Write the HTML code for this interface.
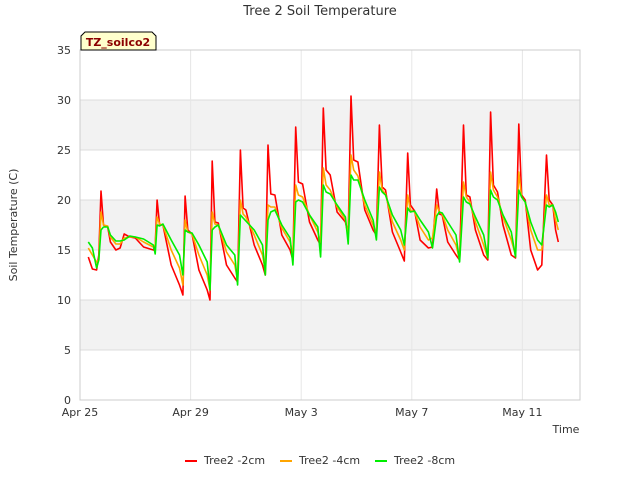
<!DOCTYPE html>
<html><head><meta charset="utf-8"><style>
body{margin:0;background:#fff;font-family:"Liberation Sans","DejaVu Sans",sans-serif;}
svg text{font-family:"DejaVu Sans","Liberation Sans",sans-serif;}
</style></head><body>
<svg id="chart" width="640" height="480" xmlns="http://www.w3.org/2000/svg">
<rect x="0" y="0" width="640" height="480" fill="#fff"/>
<g id="bands"></g><g id="grid"></g>
<rect x="80" y="50" width="500" height="350" fill="none" stroke="#ccc"/>
<g id="series"></g><g id="axes"></g>
<text x="320" y="15" text-anchor="middle" font-size="13" fill="#333">Tree 2 Soil Temperature</text>
<text x="17" y="225" text-anchor="middle" font-size="11" fill="#333" transform="rotate(-90 17 225)">Soil Temperature (C)</text>
<text x="566" y="433" text-anchor="middle" font-size="11" fill="#333">Time</text>
<g>
<path d="M81 50 L81 36 L85 32 L152 32 L156 36 L156 50 Z" fill="#ffffcc" stroke="#000" stroke-width="1"/>
<text x="118" y="46" text-anchor="middle" font-size="11" font-weight="bold" fill="#8b0000">TZ_soilco2</text>
</g>
<g id="legend"></g>
</svg>
<script>
const yTicks=[0,5,10,15,20,25,30,35];
const xTickDays=[0,4,8,12,16];
const xTickLabels=["Apr 25","Apr 29","May 3","May 7","May 11"];
const seriesNames=["Tree2 -2cm","Tree2 -4cm","Tree2 -8cm"];
const times=[0.3,0.45,0.6,0.68,0.76,0.85,1.0,1.1,1.3,1.45,1.6,1.8,2.0,2.3,2.65,2.72,2.79,2.88,3.0,3.3,3.6,3.72,3.8,3.9,4.05,4.3,4.6,4.7,4.78,4.88,5.0,5.3,5.6,5.7,5.8,5.9,6.0,6.3,6.6,6.7,6.8,6.9,7.05,7.3,7.6,7.7,7.8,7.9,8.05,8.3,8.6,8.7,8.8,8.9,9.05,9.3,9.6,9.7,9.8,9.9,10.05,10.3,10.6,10.72,10.83,10.93,11.05,11.3,11.6,11.73,11.85,11.95,12.1,12.3,12.6,12.75,12.9,13.0,13.1,13.3,13.6,13.73,13.87,13.97,14.1,14.3,14.6,14.75,14.85,14.95,15.1,15.3,15.6,15.75,15.87,15.97,16.1,16.3,16.55,16.7,16.87,16.97,17.1,17.2,17.3];
const red=[14.3,13.1,13.0,14.5,20.9,17.5,17.3,15.8,15.0,15.2,16.6,16.3,16.2,15.3,15.0,15.4,20.0,17.5,17.5,13.5,11.5,10.5,20.4,17.0,16.6,13.0,11.0,10.0,23.9,17.8,17.7,13.5,12.2,11.8,25.0,19.2,19.0,15.5,13.5,12.5,25.5,20.6,20.5,16.5,15.0,14.0,27.3,21.8,21.6,17.8,16.0,15.5,29.2,23.0,22.5,18.8,17.8,16.5,30.4,24.0,23.8,19.0,17.0,16.5,27.5,21.3,21.0,16.8,14.8,13.9,24.7,19.5,18.9,16.0,15.2,15.3,21.1,18.6,18.5,15.8,14.5,14.0,27.5,20.5,20.3,17.0,14.5,14.0,28.8,21.5,20.8,17.5,14.5,14.2,27.6,20.5,20.0,15.0,13.0,13.5,24.5,20.0,19.5,17.0,15.8];
const orange=[15.2,14.5,13.8,14.0,18.8,17.5,17.4,16.3,15.6,15.6,16.2,16.3,16.3,15.8,15.3,15.5,18.3,17.6,17.5,15.0,13.2,11.5,18.0,16.8,16.6,14.5,12.5,11.0,18.8,17.6,17.5,14.8,13.5,12.0,20.0,18.6,18.3,16.5,14.5,13.0,19.5,19.3,19.3,17.2,15.8,14.5,21.5,20.5,20.3,18.5,16.8,15.8,23.2,21.5,21.0,19.3,18.0,16.5,24.5,23.0,22.4,19.5,17.5,16.5,22.8,21.0,20.6,17.8,16.0,15.0,20.5,19.0,18.8,17.3,16.0,16.2,19.5,18.8,18.6,17.0,15.5,14.0,21.8,20.3,19.8,17.8,15.5,14.2,22.8,21.0,20.3,18.3,16.0,14.5,22.8,20.3,19.8,17.0,15.0,15.0,20.5,19.5,19.5,18.0,17.0];
const green=[15.8,15.2,13.2,14.0,17.0,17.3,17.3,16.5,15.9,15.9,16.0,16.4,16.3,16.1,15.5,14.6,17.5,17.4,17.6,16.0,14.5,12.5,17.0,16.8,16.7,15.5,13.8,11.0,17.0,17.3,17.5,15.5,14.5,11.5,18.5,18.2,17.9,17.0,15.5,12.5,18.0,18.8,19.0,17.5,16.2,13.5,19.8,20.0,19.8,18.5,17.3,14.3,21.5,20.8,20.6,19.5,18.3,15.6,22.5,22.0,22.0,20.0,18.0,16.0,21.3,20.8,20.5,18.5,17.0,15.5,19.2,18.8,18.9,18.0,16.8,15.2,18.4,18.8,18.7,17.8,16.5,13.8,20.3,19.8,19.6,18.3,16.5,14.2,21.0,20.3,20.0,18.5,16.8,14.3,21.0,20.3,19.8,17.8,16.0,15.5,19.5,19.3,19.5,18.8,17.8];
const colors=["#ff0000","#ffa500","#00ee00"];
const NS="http://www.w3.org/2000/svg";
const X0=80,PX_PER_DAY=27.65,Y0=400,PX_PER_UNIT=10;
function xs(d){return X0+d*PX_PER_DAY;}
function ys(v){return Y0-v*PX_PER_UNIT;}
function mk(tag,attrs,parent){const e=document.createElementNS(NS,tag);for(const k in attrs)e.setAttribute(k,attrs[k]);parent.appendChild(e);return e;}
const bands=document.getElementById('bands'),grid=document.getElementById('grid'),axes=document.getElementById('axes'),series=document.getElementById('series'),legend=document.getElementById('legend');
for(let i=0;i<yTicks.length-1;i++){
  if(i%2===1){const r=mk('rect',{x:80,y:ys(yTicks[i+1]),width:500,height:ys(yTicks[i])-ys(yTicks[i+1]),fill:'#f2f2f2'},bands);
  
  }
}
yTicks.forEach(v=>{
  const l=mk('line',{x1:80,x2:580,y1:ys(v),y2:ys(v),stroke:'#dcdcdc'},grid);
  
  
  const t=mk('text',{x:71,y:ys(v)+4,'text-anchor':'end','font-size':11,fill:'#333'},axes);
  t.textContent=v;
  
  
});
xTickDays.forEach((d,i)=>{
  const l=mk('line',{x1:xs(d),x2:xs(d),y1:50,y2:400,stroke:'#e6e6e6'},grid);
  
  
  const t=mk('text',{x:xs(d),y:416,'text-anchor':'middle','font-size':11,fill:'#333'},axes);
  t.textContent=xTickLabels[i];
  
  
});
[red,orange,green].forEach((vals,si)=>{
  const d=vals.map((v,i)=>(i?'L':'M')+xs(times[i]).toFixed(1)+' '+ys(v).toFixed(1)).join(' ');
  const p=mk('path',{d:d,fill:'none',stroke:colors[si],'stroke-width':1.6,'stroke-linejoin':'round'},series);
  
  
});
const legX=[185,280,375];
seriesNames.forEach((n,i)=>{
  const g=mk('g',{},legend);
  
  
  mk('line',{x1:legX[i],x2:legX[i]+12,y1:461,y2:461,stroke:colors[i],'stroke-width':2},g);
  const t=mk('text',{x:legX[i]+19,y:464,'font-size':11,fill:'#333'},g);
  t.textContent=n;
});
</script>
</body></html>
